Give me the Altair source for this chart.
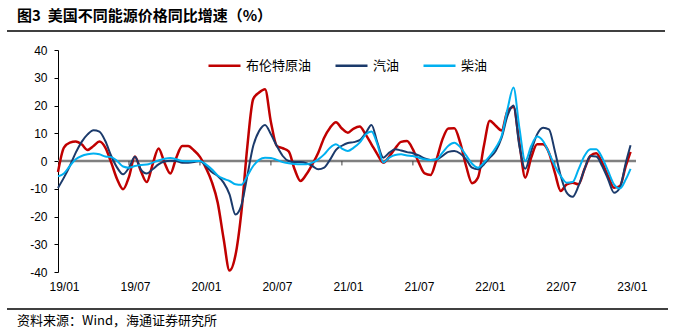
import altair as alt
import pandas as pd

# ---- data ----
series_names = ["布伦特原油", "汽油", "柴油"]
series_colors = ["#C00000", "#1B3A6B", "#00B0F0"]
series_widths = [2.5, 2.0, 2.0]

x_tick_values = [0, 6, 12, 18, 24, 30, 36, 42, 48]
x_tick_labels = ["19/01", "19/07", "20/01", "20/07", "21/01", "21/07", "22/01", "22/07", "23/01"]
y_tick_values = [-40, -30, -20, -10, 0, 10, 20, 30, 40]

# time in months since 2019-01 (half-month steps)
t_vals = [k * 0.5 for k in range(97)] + [48.4]

brent = [
    -4, 4.8, 6.6, 7.0, 6.0, 4.0, 5.4, 7.0, 4.8, -0.6,
    -6.6, -10.2, -5.7, 1.6, -3.6, -7.6, -1.2, 4.5, -0.6, -4.5,
    1.2, 5.4, 5.4, 3.8, 1.5, -2.5, -7.5, -15, -28, -39.5,
    -34, -18.5, 5, 22.3, 24.7, 25.9, 14, 5.4, 4.6, 3.5,
    -3, -7.2, -4.8, -1.2, 3, 8.4, 12, 14, 11.7, 10.2,
    11.7, 12.4, 9.6, 6, 2.4, -0.6, 1.6, 4.5, 6.9, 7.2,
    4.2, -0.6, -4.5, -5, 0.6, 7.8, 11.7, 11.8, 6.6, -1.8,
    -8, -6, 5.4, 14.5, 12.7, 11, 18, 19.5, 6.6, -6,
    1.2, 6, 6, 3, -4.2, -10.8, -8.4, -7.8, -8.4, -3,
    1.8, 2.8, -0.6, -5.4, -9.6, -9, -1.8, 3.3,
]
gasoline = [
    -9.7, -6, -1.8, 3, 6.9, 9.6, 11.1, 10.6, 7.2, 1.8,
    -2.4, -4.8, -2.4, 1.5, -3, -4.5, -3, -1.2, -0.2, 0.1,
    0, -0.6, -0.6, -0.4, 0, -1.8, -4, -5.4, -7.8, -12,
    -19.3, -16, -5.4, 5.4, 10.8, 13, 9.6, 5.4, 1.8, 0,
    -0.4, -0.4, -0.8, -1.8, -3, -2.4, 0.5, 4, 5.5, 6.5,
    6.8, 7.5, 10, 13, 6.6, 1.2, 3, 4.2, 3.8, 3.2,
    2.8, 2, 0.9, 0.4, 0.5, 1.8, 3.3, 3.6, 2.7, 0.6,
    -2.4, -3, -1.2, 1.2, 3.6, 8.4, 16.3, 20, 5.4, -2.8,
    3.6, 9.6, 12, 11.4, 3.6, -5.4, -11.4, -12.9, -9, -3,
    1.8, 1.6, -1.8, -6.6, -11.4, -9.6, -0.6, 5.7,
]
diesel = [
    -5.5, -4.5, -1.8, 0.6, 1.8, 2.4, 2.7, 2.4, 1.6, 1.4,
    0, -2, -2.4, -1.8, -1.4, -1.3, -0.6, 0.2, 0.8, 1.1,
    0.6, 0, -0.1, 0, 0, -1.2, -3, -5.2, -6.4, -7.2,
    -8.4, -8.6, -5.4, -1.8, 0.4, 1.2, 1.1, 0.4, -0.4, -0.8,
    -1.1, -1.2, -1.2, -0.6, 0.6, 2.4, 4.8, 6, 4.5, 3.6,
    4.8, 6.6, 9.5, 10.6, 6, -0.5, 1.2, 2.2, 2.4, 2,
    1.8, 1.2, 0.6, 0.4, 0.6, 3, 5.5, 6.6, 5, 2,
    -1, -2.4, -0.6, 1.8, 4.8, 9, 18.7, 26.5, 12, 0,
    5.4, 8.8, 7.2, 3, -1.8, -5.4, -7.8, -7.6, -3, 1.8,
    4.2, 4.2, 1.2, -3.6, -8.4, -9.9, -6.6, -2.8,
]

title_text = "图3\u00a0\u00a0美国不同能源价格同比增速（%）"
source_text = "资料来源：Wind，海通证券研究所"

# ---- build table ----
rows = []
for name, vals in zip(series_names, [brent, gasoline, diesel]):
    for t, v in zip(t_vals, vals):
        rows.append({"t": t, "value": v, "series": name})
df = pd.DataFrame(rows)

CJK = "Noto Sans CJK SC"
LAT = "Liberation Sans"

x_scale = alt.Scale(domain=[0, 48.86], nice=False, zero=False)
y_scale = alt.Scale(domain=[-40, 40], nice=False)

label_arr = "[" + ",".join("'" + s + "'" for s in x_tick_labels) + "]"

x_axis = alt.Axis(
    values=x_tick_values, labelExpr=label_arr + "[round(datum.value/6)]",
    domain=False, ticks=False, tickSize=0, grid=False, labelPadding=9,
    labelOffset=6, labelFlush=False, labelFont=LAT, labelFontSize=12,
    labelColor="black", title=None, labelOverlap=False,
)
y_axis = alt.Axis(
    values=y_tick_values, labelExpr="datum.value + ''", grid=False,
    domainColor="black", domainWidth=1, tickColor="black", tickSize=4,
    labelPadding=7, labelFont=LAT, labelFontSize=12, labelColor="black",
    title=None,
)

legend = alt.Legend(
    orient="none", legendX=149, legendY=-2, direction="horizontal",
    title=None, symbolType="stroke", symbolSize=1024, symbolStrokeWidth=2.5,
    labelFont=CJK, labelFontSize=13, labelColor="black", columnPadding=18,
    labelOffset=4, padding=0,
)

color = alt.Color("series:N", scale=alt.Scale(domain=series_names, range=series_colors),
                  legend=legend)

base = alt.Chart(df)

zero_line = alt.Chart(pd.DataFrame({"z": [0]})).mark_rule(
    color="#808080", strokeWidth=2.5
).encode(y=alt.Y("z:Q", scale=y_scale, axis=y_axis))

tick_df = pd.DataFrame({"t": x_tick_values[1:], "y0": [0] * 8, "y1": [-1.6] * 8})
zero_ticks = alt.Chart(tick_df).mark_rule(color="#404040", strokeWidth=1).encode(
    x=alt.X("t:Q", scale=x_scale, axis=x_axis),
    y=alt.Y("y0:Q", scale=y_scale, axis=y_axis),
    y2="y1:Q",
)

line_layers = []
for name, w in zip(series_names, series_widths):
    line_layers.append(
        base.transform_filter(alt.datum.series == name)
        .mark_line(interpolate="monotone", strokeWidth=w)
        .encode(
            x=alt.X("t:Q", scale=x_scale, axis=x_axis),
            y=alt.Y("value:Q", scale=y_scale, axis=y_axis),
            color=color,
        )
    )

title_mark = alt.Chart(pd.DataFrame({"txt": [title_text]})).mark_text(
    align="left", baseline="middle", font=CJK, fontSize=15, fontWeight="bold",
    color="black",
).encode(text="txt:N", x=alt.value(-41), y=alt.value(-34.5))

top_rule = alt.Chart(pd.DataFrame({"a": [0]})).mark_rule(
    color="black", strokeWidth=1.5
).encode(x=alt.value(-51), x2=alt.value(607), y=alt.value(-19))

bottom_rule = alt.Chart(pd.DataFrame({"a": [0]})).mark_rule(
    color="black", strokeWidth=1.5
).encode(x=alt.value(-51), x2=alt.value(610), y=alt.value(259))

source_mark = alt.Chart(pd.DataFrame({"txt": [source_text]})).mark_text(
    align="left", baseline="middle", font=CJK, fontSize=13, color="black",
).encode(text="txt:N", x=alt.value(-41), y=alt.value(271))

chart = alt.layer(
    zero_line, zero_ticks, *line_layers, title_mark, top_rule, bottom_rule, source_mark
).properties(
    width=578, height=222,
    autosize=alt.AutoSizeParams(type="none"),
    padding={"left": 58, "top": 50, "right": 42, "bottom": 60},
    background="white",
).configure_view(stroke=None)

chart.save("out.html", embed_options={"renderer": "svg", "actions": False})
